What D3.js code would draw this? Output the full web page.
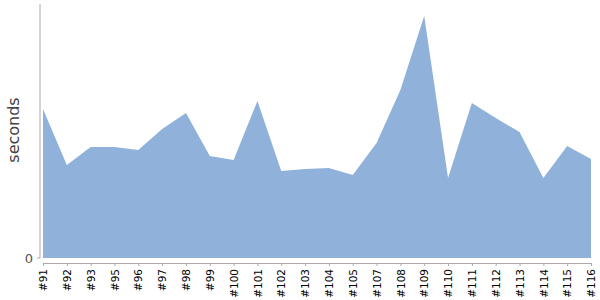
<!DOCTYPE html>
<html><head><meta charset="utf-8">
<script src="https://cdn.jsdelivr.net/npm/d3@7"></script>
<style>body{margin:0;background:#fff}svg{display:block;font-family:"DejaVu Sans",sans-serif}</style>
</head><body><svg id="c" width="600" height="300"></svg>
<script>
const categories = ["#91","#92","#93","#95","#96","#97","#98","#99","#100","#101","#102","#103","#104","#105","#107","#108","#109","#110","#111","#112","#113","#114","#115","#116"];
const seconds = [149,93,111,111,108,129,145,102,98,157,87,89,90,83,115,168,242,80,155,140,126,80,112,99];
const yTicks = [0];
const yLabel = "seconds";

const svg = d3.select("#c");
const x = d3.scalePoint().domain(categories).range([43, 591]);
const y = d3.scaleLinear().domain([0, 254]).range([258, 4]);

const area = d3.area().x((d,i)=>x(categories[i])).y0(y(0)).y1(d=>y(d));
svg.append("path").datum(seconds).attr("d", area).attr("fill", "#8fb1da");

// y axis
svg.append("line").attr("x1",40).attr("x2",40).attr("y1",y.range()[1]).attr("y2",y(0)).attr("stroke","#aaa");
const yg = svg.append("g").attr("transform","translate(40,0)");
yTicks.forEach(t=>{
  yg.append("line").attr("x1",-3).attr("x2",0).attr("y1",y(t)).attr("y2",y(t)).attr("stroke","#aaa");
  yg.append("text").attr("x",-7).attr("y",y(t)).attr("dy","0.35em").attr("text-anchor","end")
    .attr("font-size",13).attr("fill","#555").text(t);
});
svg.append("text").attr("transform","translate(19,130) rotate(-90)").attr("text-anchor","middle")
  .attr("font-size",16).attr("fill","#444").text(yLabel);

// x axis
const xg = svg.append("g").attr("transform","translate(0,263)");
xg.call(d3.axisBottom(x).tickSize(3).tickPadding(4).tickSizeOuter(0));
xg.select(".domain").attr("stroke","#aaa");
xg.selectAll(".tick line").attr("stroke","#aaa");
xg.selectAll(".tick text").attr("font-size",10.5).attr("fill","#000").attr("font-family","DejaVu Sans")
  .attr("text-anchor","end").attr("transform","rotate(-90)").attr("x",-6).attr("y",0).attr("dy","0.35em");
</script></body></html>
